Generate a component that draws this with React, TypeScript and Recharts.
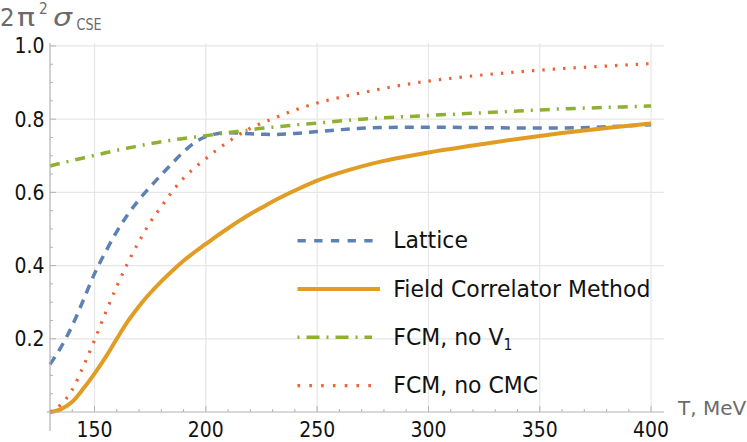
import React from "react";
import {
  LineChart,
  Line,
  XAxis,
  YAxis,
  CartesianGrid,
  ReferenceLine,
} from "recharts";

// temperature grid, MeV
const temperatures = [
  130, 135, 140, 145, 150, 155, 160, 165, 170, 175, 180, 185, 190, 195, 200,
  205, 210, 215, 220, 225, 230, 240, 250, 260, 270, 280, 290, 300, 320, 340,
  360, 380, 400,
];

const lattice = [
  0.13, 0.178, 0.236, 0.306, 0.378, 0.438, 0.493, 0.54, 0.58, 0.615, 0.648,
  0.68, 0.711, 0.736, 0.752, 0.76, 0.763, 0.762, 0.76, 0.759, 0.758, 0.761,
  0.766, 0.771, 0.775, 0.777, 0.778, 0.778, 0.777, 0.776, 0.776, 0.779, 0.785,
];

const fieldCorrelator = [
  0.0, 0.008, 0.028, 0.064, 0.105, 0.15, 0.2, 0.248, 0.289, 0.325, 0.357,
  0.386, 0.413, 0.437, 0.459, 0.481, 0.502, 0.522, 0.541, 0.558, 0.575, 0.605,
  0.632, 0.653, 0.671, 0.686, 0.698, 0.709, 0.728, 0.746, 0.762, 0.776, 0.788,
];

const fcmNoV1 = [
  0.672, 0.68, 0.687, 0.694, 0.701, 0.708, 0.715, 0.721, 0.727, 0.733, 0.738,
  0.743, 0.747, 0.751, 0.755, 0.759, 0.763, 0.767, 0.771, 0.775, 0.778, 0.784,
  0.789, 0.795, 0.8, 0.804, 0.807, 0.81, 0.816, 0.822, 0.828, 0.832, 0.836,
];

const fcmNoCmc = [
  0.0, 0.021, 0.061, 0.125, 0.196, 0.272, 0.343, 0.408, 0.466, 0.518, 0.561,
  0.603, 0.639, 0.667, 0.692, 0.716, 0.738, 0.758, 0.775, 0.789, 0.801, 0.825,
  0.844, 0.859, 0.872, 0.884, 0.895, 0.904, 0.918, 0.929, 0.938, 0.945, 0.952,
];

const xMajorTicks = [150, 200, 250, 300, 350, 400];
const xMinorTicks = [
  140, 160, 170, 180, 190, 210, 220, 230, 240, 260, 270, 280, 290, 310, 320,
  330, 340, 360, 370, 380, 390,
];
const yMajorTicks = [0.2, 0.4, 0.6, 0.8, 1.0];
const yMinorTicks = [
  0.05, 0.1, 0.15, 0.25, 0.3, 0.35, 0.45, 0.5, 0.55, 0.65, 0.7, 0.75, 0.85,
  0.9, 0.95,
];

const data = temperatures.map((T, i) => ({
  T,
  lattice: lattice[i],
  fcm: fieldCorrelator[i],
  noV1: fcmNoV1[i],
  noCmc: fcmNoCmc[i],
}));

const xTicks = [...xMinorTicks, ...xMajorTicks].sort((a, b) => a - b);
const yTicks = [...yMinorTicks, ...yMajorTicks].sort((a, b) => a - b);

const FONT = "'DejaVu Sans', sans-serif";
const AXIS = "#b3b3b3";
const GRID = "#e6e6e6";
const LABEL = "#6b6b6b";
const BLUE = "#5E81B5";
const ORANGE = "#E19C24";
const GREEN = "#8FB032";
const RED = "#EB6235";
const SQUEEZE = 0.92;

function XTick(props: any) {
  const { x, y, payload } = props;
  const major = xMajorTicks.includes(payload.value);
  return (
    <g>
      <line x1={x} x2={x} y1={y} y2={y - (major ? 6 : 3)} stroke={AXIS} />
      {major && (
        <text
          transform={`translate(${x} ${y + 25.3}) scale(${SQUEEZE} 1)`}
          textAnchor="middle"
          fontFamily={FONT}
          fontSize={20.5}
          fill="#111"
        >
          {payload.value}
        </text>
      )}
    </g>
  );
}

function YTick(props: any) {
  const { x, y, payload } = props;
  const major = yMajorTicks.includes(payload.value);
  return (
    <g>
      <line x1={x} x2={x + (major ? 6 : 3)} y1={y} y2={y} stroke={AXIS} />
      {major && (
        <text
          transform={`translate(${x - 5.5} ${y + 7.4}) scale(${SQUEEZE} 1)`}
          textAnchor="end"
          fontFamily={FONT}
          fontSize={20.5}
          fill="#111"
        >
          {payload.value.toFixed(1)}
        </text>
      )}
    </g>
  );
}

const legendRows = [
  { label: "Lattice", color: BLUE, dash: "8.3 8.4", width: 3.5, x2: 373 },
  { label: "Field Correlator Method", color: ORANGE, dash: undefined, width: 4, x2: 380 },
  { label: "FCM, no V", sub: "1", color: GREEN, dash: "2 7 13 7", width: 3.5, x2: 372 },
  { label: "FCM, no CMC", color: RED, dash: "2.6 9.2", width: 3.2, x2: 371 },
];

function Overlay() {
  const t = (x: number, y: number, s = SQUEEZE) =>
    `translate(${x} ${y}) scale(${s} 1)`;
  return (
    <svg
      width={747}
      height={442}
      style={{ position: "absolute", left: 0, top: 0, pointerEvents: "none" }}
    >
      {/* y axis title: 2 pi^2 sigma_CSE */}
      <g fontFamily={FONT} fill={LABEL}>
        <text transform={t(0, 25.7)} fontSize={25}>2</text>
        <text transform={t(17, 25.7, 1.2)} fontSize={25}>π</text>
        <text transform={t(39, 14)} fontSize={15}>2</text>
        <text transform={t(53, 25.7, 1.2)} fontSize={25} fontStyle="italic">σ</text>
        <text transform={t(76.5, 29.5, 0.8)} fontSize={16}>CSE</text>
        <text x={678} y={415} fontSize={20}>T, MeV</text>
      </g>

      {/* legend */}
      {legendRows.map((row, i) => {
        const ly = 240.7 + i * 48.33;
        return (
          <g key={row.label}>
            <line
              x1={297.5}
              x2={row.x2}
              y1={ly}
              y2={ly}
              stroke={row.color}
              strokeWidth={row.width}
              strokeDasharray={row.dash}
            />
            <text
              transform={t(393.3, ly + 7.7, 0.935)}
              fontFamily={FONT}
              fontSize={23.5}
              fill="#111"
            >
              {row.label}
              {row.sub && (
                <tspan dy={5} fontSize={15}>
                  {row.sub}
                </tspan>
              )}
            </text>
          </g>
        );
      })}
    </svg>
  );
}

export default function App() {
  return (
    <div
      style={{
        position: "absolute",
        left: 0,
        top: 0,
        width: 747,
        height: 442,
        background: "#fff",
      }}
    >
      <LineChart
        width={747}
        height={442}
        data={data}
        margin={{ top: 43, right: 83, bottom: 0, left: 0 }}
      >
        <CartesianGrid
          stroke={GRID}
          strokeWidth={1.2}
          horizontalValues={yMajorTicks}
          verticalValues={xMajorTicks}
        />
        <XAxis
          dataKey="T"
          type="number"
          domain={[130, 405.8]}
          ticks={xTicks}
          interval={0}
          height={30}
          tickSize={0}
          tickMargin={0}
          tick={<XTick />}
          tickLine={false}
          axisLine={{ stroke: AXIS, strokeWidth: 1.2 }}
        />
        <YAxis
          type="number"
          domain={[0, 1.008]}
          ticks={yTicks}
          interval={0}
          width={50}
          tickSize={0}
          tickMargin={0}
          tick={<YTick />}
          tickLine={false}
          axisLine={{ stroke: AXIS, strokeWidth: 1.2 }}
        />
        <ReferenceLine
          segment={[
            { x: 130, y: 0 },
            { x: 130, y: -0.052 },
          ]}
          ifOverflow="visible"
          stroke={AXIS}
          strokeWidth={1.2}
        />
        <ReferenceLine
          segment={[
            { x: 128.5, y: 0 },
            { x: 130, y: 0 },
          ]}
          ifOverflow="visible"
          stroke={AXIS}
          strokeWidth={1.2}
        />
        <Line
          type="monotone"
          dataKey="lattice"
          stroke={BLUE}
          strokeWidth={3.5}
          strokeDasharray="9 7"
          dot={false}
          isAnimationActive={false}
        />
        <Line
          type="monotone"
          dataKey="fcm"
          stroke={ORANGE}
          strokeWidth={4}
          dot={false}
          isAnimationActive={false}
        />
        <Line
          type="monotone"
          dataKey="noV1"
          stroke={GREEN}
          strokeWidth={3.5}
          strokeDasharray="10 7 2 7"
          dot={false}
          isAnimationActive={false}
        />
        <Line
          type="monotone"
          dataKey="noCmc"
          stroke={RED}
          strokeWidth={3.2}
          strokeDasharray="2.4 8"
          dot={false}
          isAnimationActive={false}
        />
      </LineChart>
      <Overlay />
    </div>
  );
}
